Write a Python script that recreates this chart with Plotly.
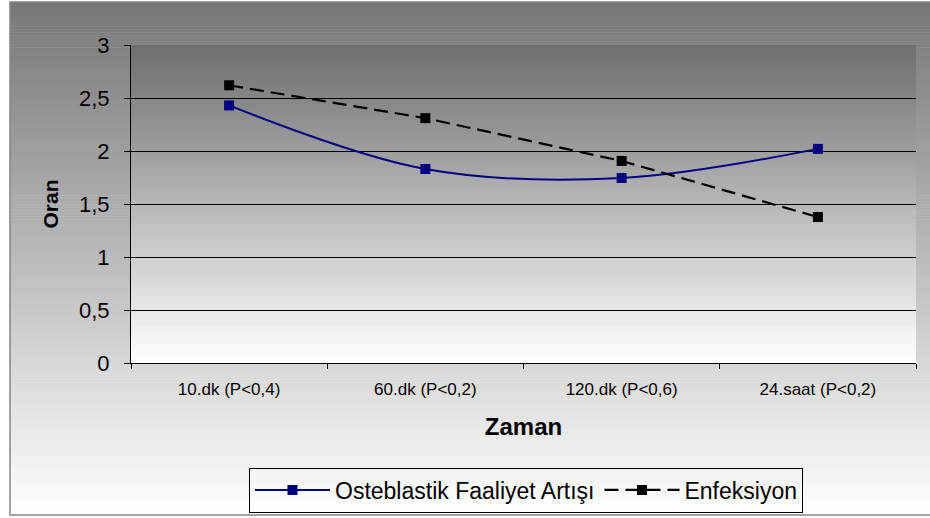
import plotly.graph_objects as go

# --- data ---
categories = ["10.dk (P<0,4)", "60.dk (P<0,2)", "120.dk (P<0,6)", "24.saat (P<0,2)"]
osteoblastic = [2.43, 1.83, 1.745, 2.02]
infection = [2.62, 2.31, 1.906, 1.377]
y_tick_values = [0, 0.5, 1, 1.5, 2, 2.5, 3]
y_tick_labels = ["0", "0,5", "1", "1,5", "2", "2,5", "3"]

# --- canvas geometry (pixels) ---
W, H = 930, 518
ML, MR, MT, MB = 131, 14, 45, 155
PW, PH = W - ML - MR, H - MT - MB


def fx(px):
    return (px - ML) / PW


def fy(py):
    return (H - MB - py) / PH


def gradient(x0, x1, y0, y1, c_top, c_bottom, n):
    """Vertical grey gradient made of thin horizontal bands (pixel coords)."""
    bands = []
    step = (y1 - y0) / n
    for i in range(n):
        t = i / (n - 1)
        g = round(c_top + (c_bottom - c_top) * t)
        top = y0 + i * step
        bands.append(dict(
            type="rect", xref="paper", yref="paper", layer="below",
            x0=fx(x0), x1=fx(x1), y0=fy(top + step + 0.6), y1=fy(top),
            fillcolor=f"rgb({g},{g},{g})", line=dict(width=0),
        ))
    return bands


shapes = []
# chart area background
shapes += gradient(10, 940, 2, 515, 119, 255, 170)
# plot area background
shapes += gradient(ML, W - MR, MT, H - MB, 110, 255, 120)
# chart area frame
shapes.append(dict(
    type="rect", xref="paper", yref="paper", layer="below",
    x0=fx(10), x1=fx(940), y0=fy(515), y1=fy(2),
    fillcolor="rgba(0,0,0,0)", line=dict(color="#858585", width=1.5),
))

FONT = "Liberation Sans, Arial, sans-serif"

fig = go.Figure()
fig.add_trace(go.Scatter(
    x=categories, y=osteoblastic, name="Osteblastik Faaliyet Artışı",
    mode="lines+markers",
    line=dict(color="#000080", width=2, shape="spline", smoothing=1.0),
    marker=dict(symbol="square", size=10, color="#000080"),
))
fig.add_trace(go.Scatter(
    x=categories, y=infection, name="Enfeksiyon",
    mode="lines+markers",
    line=dict(color="#000000", width=2.2, dash="14px,7px"),
    marker=dict(symbol="square", size=10, color="#000000"),
))

fig.update_layout(
    width=W, height=H,
    margin=dict(l=ML, r=MR, t=MT, b=MB, pad=0, autoexpand=False),
    paper_bgcolor="white",
    plot_bgcolor="rgba(0,0,0,0)",
    font=dict(family=FONT, color="black"),
    shapes=shapes,
    showlegend=True,
    legend=dict(
        orientation="h", x=fx(526), xanchor="center",
        yref="container", y=1 - 490 / H, yanchor="middle",
        bgcolor="rgba(0,0,0,0)", bordercolor="black", borderwidth=1,
        font=dict(family=FONT, size=23, color="black"),
        itemwidth=75, tracegroupgap=0,
    ),
    xaxis=dict(
        type="category", range=[-0.5, 3.5], automargin=False,
        showline=True, linecolor="black", linewidth=1,
        showgrid=False, zeroline=False,
        ticks="outside", tickson="boundaries", ticklen=5, tickcolor="black",
        tickfont=dict(family=FONT, size=17, color="black"),
        ticklabelstandoff=11,
        title=dict(text="<b>Zaman</b>", font=dict(family=FONT, size=24, color="black"), standoff=19),
    ),
    yaxis=dict(
        range=[0, 3], automargin=False,
        tickvals=y_tick_values, ticktext=y_tick_labels,
        showline=True, linecolor="black", linewidth=1,
        showgrid=True, gridcolor="black", gridwidth=1, zeroline=False,
        ticks="outside", ticklen=6, tickcolor="black",
        tickfont=dict(family=FONT, size=22, color="black"),
        ticklabelstandoff=10,
        title=dict(text="<b>Oran</b>", font=dict(family=FONT, size=21, color="black"), standoff=14),
    ),
)

fig.write_html("out.html")
